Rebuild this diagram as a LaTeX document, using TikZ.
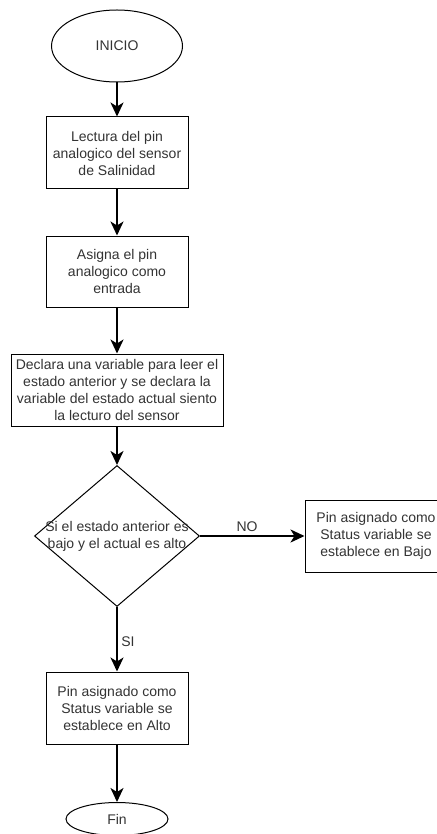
\documentclass[tikz,border=0pt]{standalone}
\usepackage{fontspec}
\setmainfont{Liberation Sans}
\usetikzlibrary{shapes.geometric,arrows.meta}
\begin{document}
\begin{tikzpicture}[x=1pt, y=-1pt,
    every node/.style={font=\fontsize{14}{17}\selectfont, text=black!80},
    caja/.style={draw, line width=1pt, minimum width=142pt, minimum height=72pt, align=center, inner sep=0pt},
    terminal/.style={draw, ellipse, line width=1pt, inner sep=0pt},
    flecha/.style={-{Stealth[length=14pt, width=13pt, inset=4pt]}, line width=2pt}]
    \useasboundingbox (0,0) rectangle (436,834);

    % inicio y fin
    \node[terminal, minimum width=131pt, minimum height=72pt] (inicio) at (117,46) {INICIO};
    \node[terminal, minimum width=102pt, minimum height=33pt] (fin) at (117,819) {Fin};

    % pasos
    \node[caja] (lectura) at (117,153) {Lectura del pin\\analogico del sensor\\de Salinidad};
    \node[caja, minimum height=71pt] (asigna) at (117,271.5) {Asigna el pin\\analogico como\\entrada};
    \node[caja, minimum width=212pt] (declara) at (117,390) {Declara una variable para leer el\\estado anterior y se declara la\\variable del estado actual siento\\la lecturo del sensor};

    % decision
    \node[draw, diamond, line width=1pt, minimum width=165pt, minimum height=141pt, inner sep=0pt] (condicion) at (117,536) {};
    \node[align=center, inner sep=0pt] (pregunta) at (condicion.center) {Si el estado anterior es\\bajo y el actual es alto};

    \node[caja] (bajo) at (376,536) {Pin asignado como\\Status variable se\\establece en Bajo};
    \node[caja] (alto) at (117,708) {Pin asignado como\\Status variable se\\establece en Alto};

    % flechas
    \draw[flecha] (inicio) -- (lectura);
    \draw[flecha] (lectura) -- (asigna);
    \draw[flecha] (asigna) -- (declara);
    \draw[flecha] (declara) -- (condicion);
    \draw[flecha] (condicion) -- node[above, pos=0.45] {NO} (bajo);
    \draw[flecha] (condicion) -- node[right, pos=0.53] {SI} (alto);
    \draw[flecha] (alto) -- (fin);
\end{tikzpicture}
\end{document}
